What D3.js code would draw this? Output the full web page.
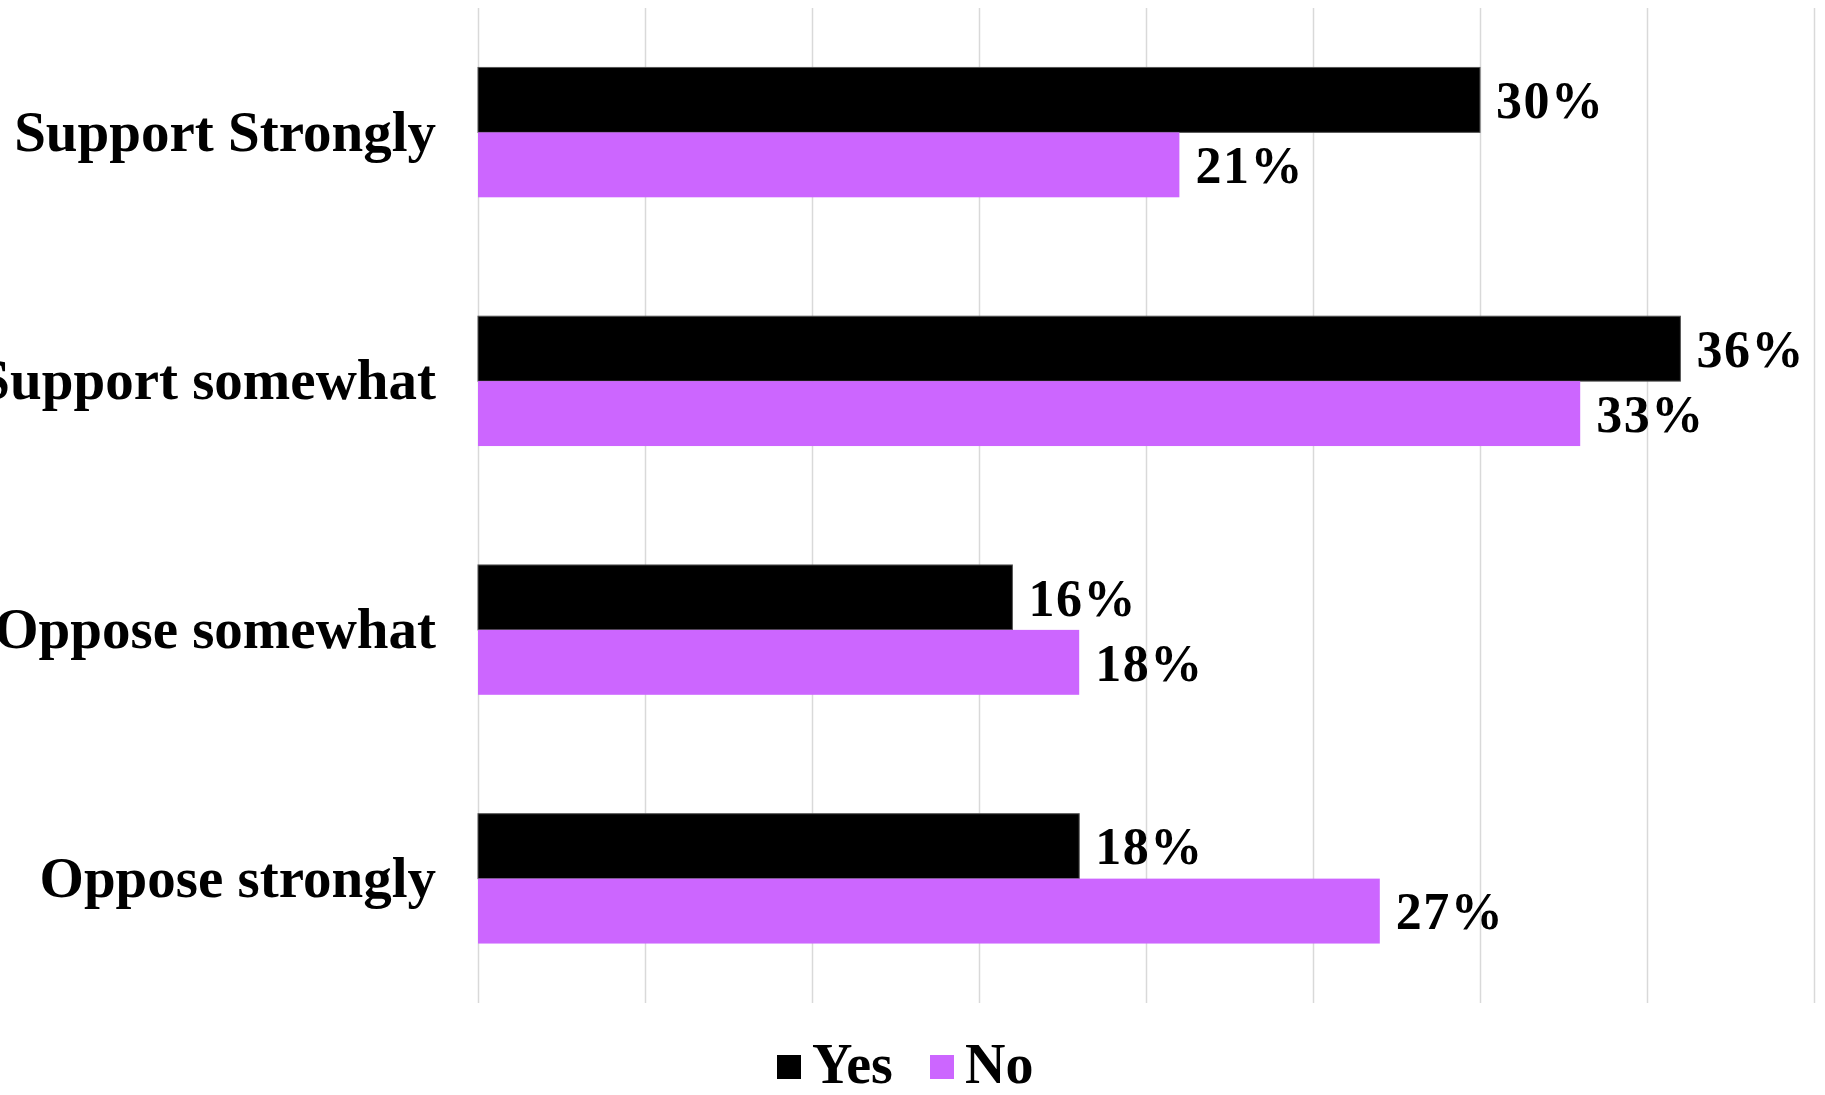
<!DOCTYPE html>
<html>
<head>
<meta charset="utf-8">
<script src="https://cdn.jsdelivr.net/npm/d3@7"></script>
<style>
  html, body { margin: 0; padding: 0; background: #ffffff; }
  svg { display: block; }
</style>
</head>
<body>
<svg id="chart" width="1825" height="1095"></svg>
<script>
const categories = ["Support Strongly", "Support somewhat", "Oppose somewhat", "Oppose strongly"];
const seriesNames = ["Yes", "No"];
const yesValues = [0.30, 0.36, 0.16, 0.18];
const noValues = [0.21, 0.33, 0.18, 0.27];
const gridTicks = [0, 0.05, 0.10, 0.15, 0.20, 0.25, 0.30, 0.35, 0.40];
const colors = { Yes: "#000000", No: "#CC66FF" };

const FONT = "'Liberation Serif', 'Times New Roman', serif";
const svg = d3.select("#chart");

const x = d3.scaleLinear().domain([0, 0.40]).range([478, 1814]);
const y = d3.scaleBand().domain(categories).range([8, 1003]).paddingInner(0.478).paddingOuter(0.239);
const ySub = d3.scaleBand().domain(seriesNames).range([0, y.bandwidth()]);

const rows = categories.map((c, i) => ({ cat: c, Yes: yesValues[i], No: noValues[i] }));

// gridlines
svg.append("g").selectAll("line").data(gridTicks).join("line")
  .attr("x1", d => Math.round(x(d)) + 0.5).attr("x2", d => Math.round(x(d)) + 0.5)
  .attr("y1", 8).attr("y2", 1003)
  .attr("stroke", "#d9d9d9").attr("stroke-width", 1.5);

// bars
const groups = svg.append("g").selectAll("g").data(rows).join("g")
  .attr("transform", d => `translate(0,${y(d.cat)})`);

groups.selectAll("rect").data(d => seriesNames.map(s => ({ s, v: d[s] }))).join("rect")
  .attr("x", x(0))
  .attr("y", d => ySub(d.s))
  .attr("width", d => x(d.v) - x(0))
  .attr("height", ySub.bandwidth())
  .attr("fill", d => colors[d.s])
  .attr("stroke", d => d.s === "Yes" ? "#555555" : "none")
  .attr("stroke-width", 1);

// value labels
const VFS = 52;
groups.selectAll("text").data(d => seriesNames.map(s => ({ s, v: d[s] }))).join("text")
  .attr("x", d => x(d.v) + 16)
  .attr("y", d => ySub(d.s) + ySub.bandwidth() / 2 + VFS * 0.35)
  .attr("font-family", FONT).attr("font-weight", "bold").attr("font-size", VFS)
  .attr("letter-spacing", 1.5)
  .attr("fill", "#000")
  .text(d => Math.round(d.v * 100) + "%");

// category labels
const CFS = 57;
svg.append("g").selectAll("text").data(categories).join("text")
  .attr("x", 436)
  .attr("y", d => y(d) + y.bandwidth() / 2 + CFS * 0.32)
  .attr("text-anchor", "end")
  .attr("font-family", FONT).attr("font-weight", "bold").attr("font-size", CFS)
  .attr("fill", "#000")
  .text(d => d);

// legend
const LFS = 56;
const legend = svg.append("g");
const legendItems = [
  { s: "Yes", sx: 777, tx: 812 },
  { s: "No", sx: 930, tx: 965 }
];
legendItems.forEach(it => {
  legend.append("rect").attr("x", it.sx).attr("y", 1055).attr("width", 24).attr("height", 24)
    .attr("fill", colors[it.s]);
  legend.append("text").attr("x", it.tx).attr("y", 1083)
    .attr("font-family", FONT).attr("font-weight", "bold").attr("font-size", LFS)
    .attr("fill", "#000").text(it.s);
});
</script>
</body>
</html>
